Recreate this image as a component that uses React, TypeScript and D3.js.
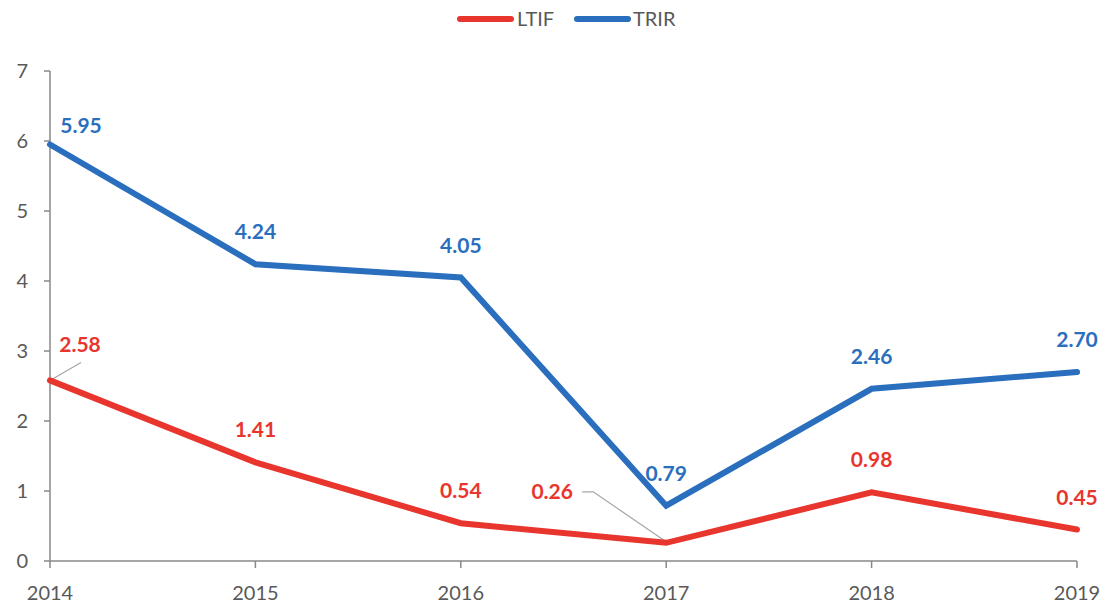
import React from 'react'
import * as d3 from 'd3'

const years = ['2014', '2015', '2016', '2017', '2018', '2019']
const ltif = [2.58, 1.41, 0.54, 0.26, 0.98, 0.45]
const trir = [5.95, 4.24, 4.05, 0.79, 2.46, 2.7]
const yTicks = [0, 1, 2, 3, 4, 5, 6, 7]

const RED = '#E8352E'
const BLUE = '#2A6EBE'
const TEXT = '#595959'
const AXIS = '#898989'
const FONT = 'Lato, "Open Sans", sans-serif'

// label nudges (dx, dy from point); default is centered, 25px above
const ltifNudge: Record<number, [number, number]> = { 0: [30, -28], 3: [-114, -44] }
const trirNudge: Record<number, [number, number]> = { 0: [31, -12] }

const App = () => {
  const width = 1105
  const height = 606
  const margin = { top: 71, right: 28, bottom: 45, left: 50 }

  const x = d3.scalePoint<string>()
    .domain(years)
    .range([margin.left, width - margin.right])
  const y = d3.scaleLinear()
    .domain([0, 7])
    .range([height - margin.bottom, margin.top])

  const line = d3.line<number>()
    .x((d, i) => x(years[i]) as number)
    .y((d) => y(d))

  const series = [
    { name: 'LTIF', values: ltif, color: RED, nudge: ltifNudge },
    { name: 'TRIR', values: trir, color: BLUE, nudge: trirNudge },
  ]

  const x0 = margin.left
  const y0 = y(0)

  // leader lines
  const p2014 = { x: x(years[0]) as number, y: y(ltif[0]) }
  const p2017 = { x: x(years[3]) as number, y: y(ltif[3]) }

  return (
    <svg width={width} height={height} style={{ display: 'block', position: 'absolute', left: 0, top: 0 }}>
      <rect width={width} height={height} fill="#fff" />

      {/* legend */}
      <g fontFamily={FONT} fontSize={20} fill={TEXT}>
        <line x1={460} x2={511} y1={19} y2={19} stroke={RED} strokeWidth={6} strokeLinecap="round" />
        <text x={517} y={26}>LTIF</text>
        <line x1={577} x2={628} y1={19} y2={19} stroke={BLUE} strokeWidth={6} strokeLinecap="round" />
        <text x={633} y={26}>TRIR</text>
      </g>

      {/* y axis */}
      <line x1={x0} x2={x0} y1={y(7)} y2={y0} stroke={AXIS} strokeWidth={1.5} />
      {yTicks.map((t) => (
        <g key={t}>
          <line x1={x0 - 6} x2={x0} y1={y(t)} y2={y(t)} stroke={AXIS} strokeWidth={1.5} />
          <text x={28} y={y(t) + 7} textAnchor="end" fontFamily={FONT} fontSize={20} fill={TEXT}>{t}</text>
        </g>
      ))}

      {/* x axis */}
      <line x1={x0} x2={width - margin.right} y1={y0} y2={y0} stroke={AXIS} strokeWidth={1.5} />
      {years.map((yr) => (
        <g key={yr}>
          <line x1={x(yr)} x2={x(yr)} y1={y0} y2={y0 + 7} stroke={AXIS} strokeWidth={1.5} />
          <text x={x(yr)} y={y0 + 39} textAnchor="middle" fontFamily={FONT} fontSize={20} fill={TEXT}>{yr}</text>
        </g>
      ))}

      {/* leaders */}
      <polyline
        points={`${p2014.x},${p2014.y} ${p2014.x + 31},${p2014.y - 18}`}
        fill="none" stroke="#A6A6A6" strokeWidth={1.2}
      />
      <polyline
        points={`${p2017.x - 84},${p2017.y - 51} ${p2017.x - 73},${p2017.y - 51} ${p2017.x},${p2017.y - 1}`}
        fill="none" stroke="#A6A6A6" strokeWidth={1.2}
      />

      {/* lines */}
      {series.map((s) => (
        <path key={s.name} d={line(s.values) as string} fill="none" stroke={s.color} strokeWidth={6} strokeLinecap="round" />
      ))}

      {/* data labels */}
      {series.map((s) => (
        <g key={s.name + '-lab'} fontFamily={FONT} fontSize={21} fontWeight={700} fill={s.color} textAnchor="middle">
          {s.values.map((v, i) => {
            const [dx, dy] = s.nudge[i] || [0, -25]
            return (
              <text key={i} x={(x(years[i]) as number) + dx} y={y(v) + dy}>{v.toFixed(2)}</text>
            )
          })}
        </g>
      ))}
    </svg>
  )
}

export default App
